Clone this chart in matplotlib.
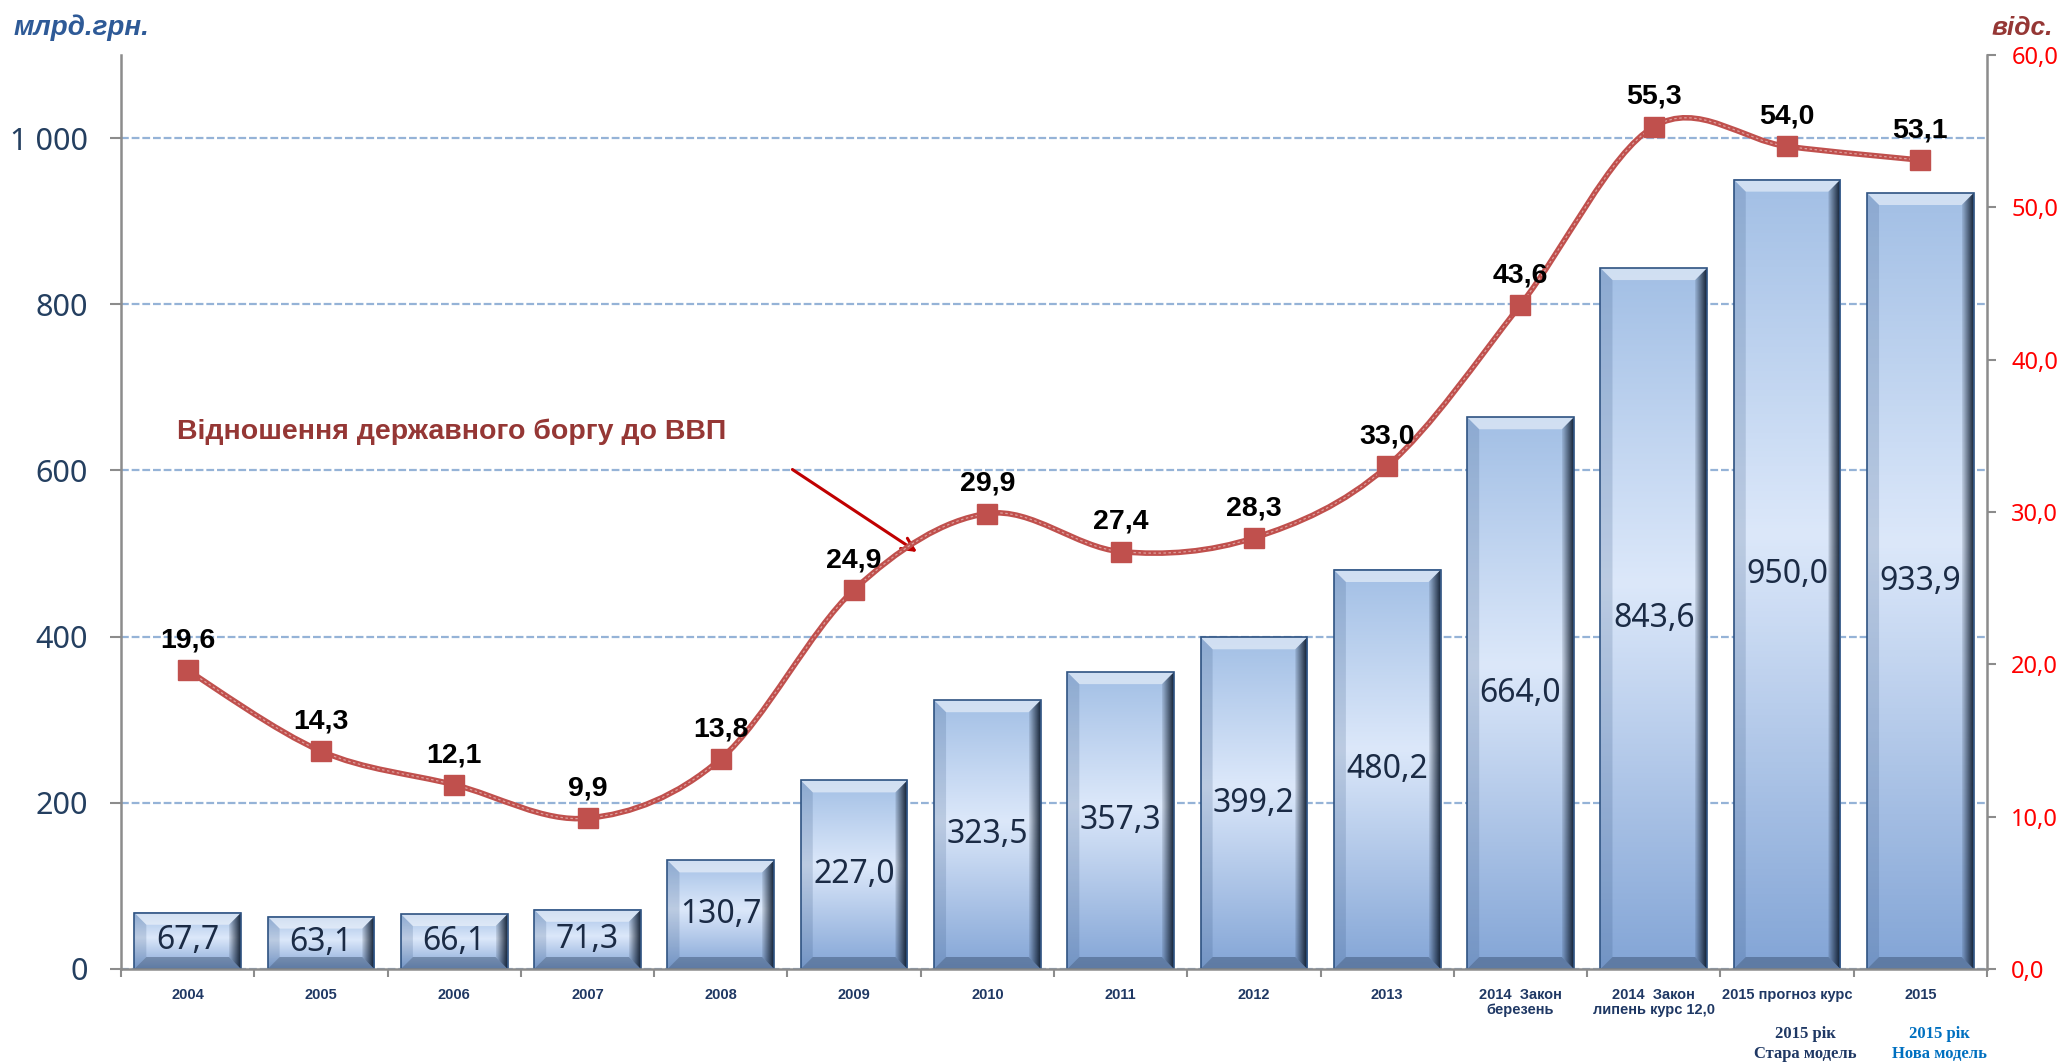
import numpy as np
import matplotlib
matplotlib.use('Agg')
import matplotlib.pyplot as plt
import matplotlib.transforms as mtransforms
from matplotlib.patches import Rectangle, Polygon, PathPatch
from matplotlib.path import Path
from matplotlib.colors import LinearSegmentedColormap, to_rgb
from matplotlib.ticker import FixedLocator, FuncFormatter, NullFormatter

plt.rcParams['font.family'] = ['Noto Sans', 'DejaVu Sans']
BOLD_FAM = ['Liberation Sans', 'DejaVu Sans']

# ---- data ----
CATEGORIES = ['2004', '2005', '2006', '2007', '2008', '2009', '2010', '2011',
              '2012', '2013', '2014  Закон\nберезень',
              '2014  Закон\nлипень курс 12,0', '2015 прогноз курс', '2015']
DEBT = [67.7, 63.1, 66.1, 71.3, 130.7, 227.0, 323.5, 357.3, 399.2, 480.2,
        664.0, 843.6, 950.0, 933.9]          # млрд.грн.
RATIO = [19.6, 14.3, 12.1, 9.9, 13.8, 24.9, 29.9, 27.4, 28.3, 33.0,
         43.6, 55.3, 54.0, 53.1]              # % ВВП
LEFT_TICKS = [0, 200, 400, 600, 800, 1000]
RIGHT_TICKS = [0, 10, 20, 30, 40, 50, 60]
NOTE_IDX = [12, 13]
NOTE_YEAR = '2015 рік'
NOTE_MODELS = ['Стара модель', 'Нова модель']
NOTE_COLORS = ['#1F3864', '#0070C0']
SERIES_NOTE = 'Відношення державного боргу до ВВП'

W, H = 2065, 1062
BAR_W = 0.8
LINE_C = '#C0504D'
GRID_C = '#95B3D7'
AX_C = '#8C8C8C'


def comma(v):
    return f'{v:.1f}'.replace('.', ',')


def smooth_path(xs, ys):
    # bezier through the points, excel-like "smoothed line"
    n = len(xs)
    verts = [(xs[0], ys[0])]
    codes = [Path.MOVETO]
    for i in range(n - 1):
        xp, yp = (xs[i - 1], ys[i - 1]) if i > 0 else (xs[i], ys[i])
        xn, yn = (xs[i + 2], ys[i + 2]) if i + 2 < n else (xs[i + 1], ys[i + 1])
        c1 = (xs[i] + (xs[i + 1] - xp) / 6, ys[i] + (ys[i + 1] - yp) / 6)
        c2 = (xs[i + 1] - (xn - xs[i]) / 6, ys[i + 1] - (yn - ys[i]) / 6)
        verts += [c1, c2, (xs[i + 1], ys[i + 1])]
        codes += [Path.CURVE4] * 3
    return Path(verts, codes)


fig = plt.figure(figsize=(W / 100, H / 100), dpi=100)
ax = fig.add_axes([121 / W, 1 - 969 / H, (1987 - 121) / W, (969 - 55) / H])
ax.set_xlim(-0.5, len(CATEGORIES) - 0.5)
ax.set_ylim(0, 1100)

# pixel -> data conversion for bevel sizes
p0 = ax.transData.transform((0, 0))
p1 = ax.transData.transform((1, 1))
sx, sy = p1[0] - p0[0], p1[1] - p0[1]

bar_cmap = LinearSegmentedColormap.from_list(
    'bar', [(0, '#83A5D6'), (0.55, '#DCE8FA'), (1, '#A2BFE5')])
grad = np.linspace(0, 1, 256).reshape(-1, 1)
dark = to_rgb('#0D1A2C')
side = np.zeros((1, 32, 4))
side[0, :, :3] = dark
side[0, :, 3] = np.linspace(0.1, 0.95, 32)

X = np.arange(len(CATEGORIES))
for xc, h in zip(X, DEBT):
    x0, x1 = xc - BAR_W / 2, xc + BAR_W / 2
    bx = 12 / sx
    by = min(12 / sy, h / 3)
    ax.imshow(grad, cmap=bar_cmap, vmin=0, vmax=1, origin='lower',
              extent=[x0, x1, 0, h], aspect='auto', zorder=2,
              interpolation='bilinear')
    # bevels
    top = Polygon([(x0, h), (x1, h), (x1 - bx, h - by), (x0 + bx, h - by)],
                  closed=True, facecolor='white', alpha=0.5, lw=0, zorder=2.2)
    left = Polygon([(x0, 0), (x0, h), (x0 + bx, h - by), (x0 + bx, by)],
                   closed=True, facecolor='#2B4B78', alpha=0.18, lw=0, zorder=2.2)
    bot = Polygon([(x0, 0), (x1, 0), (x1 - bx, by), (x0 + bx, by)],
                  closed=True, facecolor='#1A2D48', alpha=0.35, lw=0, zorder=2.2)
    right = Polygon([(x1, 0), (x1, h), (x1 - bx, h - by), (x1 - bx, by)],
                    closed=True, facecolor='none', lw=0, zorder=2.2)
    for p in (top, left, bot, right):
        ax.add_patch(p)
    im = ax.imshow(side, origin='lower', extent=[x1 - bx, x1, 0, h],
                   aspect='auto', zorder=2.3, interpolation='bilinear')
    im.set_clip_path(right)
    ax.add_patch(Rectangle((x0, 0), BAR_W, h, facecolor='none',
                           edgecolor='#2F5382', lw=1.2, zorder=2.5))
    ax.text(xc, h / 2, comma(h), ha='center', va='center', fontsize=23,
            color='#1B2B45', zorder=3)

ax.set_xlim(-0.5, len(CATEGORIES) - 0.5)
ax.set_ylim(0, 1100)

# grid + axes styling
ax.set_axisbelow(True)
ax.yaxis.set_major_locator(FixedLocator(LEFT_TICKS))
ax.yaxis.set_major_formatter(FuncFormatter(lambda v, p: f'{int(v):,}'.replace(',', ' ')))
ax.grid(axis='y', color=GRID_C, lw=1.6, linestyle=(0, (3.5, 1.3)))
ax.tick_params(axis='y', length=8, width=1.5, color=AX_C, pad=16,
               labelsize=22, labelcolor='#243F60')

ax.xaxis.set_major_locator(FixedLocator(np.arange(-0.5, len(CATEGORIES), 1)))
ax.xaxis.set_major_formatter(NullFormatter())
ax.xaxis.set_minor_locator(FixedLocator(X))
ax.set_xticklabels(CATEGORIES, minor=True, fontsize=10.5, fontweight='bold',
                   family=BOLD_FAM, color='#1F3864', linespacing=1.05)
ax.tick_params(axis='x', which='major', length=6, width=1.5, color=AX_C)
ax.tick_params(axis='x', which='minor', length=0, pad=14)

for s in ('top', 'right'):
    ax.spines[s].set_visible(False)
for s in ('left', 'bottom'):
    ax.spines[s].set_color(AX_C)
    ax.spines[s].set_linewidth(1.8)

# ---- ratio line ----
ax2 = ax.twinx()
ax2.set_ylim(0, 60)
ax2.yaxis.set_major_locator(FixedLocator(RIGHT_TICKS))
ax2.yaxis.set_major_formatter(FuncFormatter(lambda v, p: comma(v)))
ax2.tick_params(axis='y', length=6.5, width=1.5, color=AX_C, pad=11,
                labelsize=17, labelcolor='#FF0000')
for s in ('top', 'left', 'bottom'):
    ax2.spines[s].set_visible(False)
ax2.spines['right'].set_color(AX_C)
ax2.spines['right'].set_linewidth(1.8)

path = smooth_path(X, RATIO)
ax2.add_patch(PathPatch(path, facecolor='none', edgecolor=LINE_C, lw=4.0,
                        capstyle='round', zorder=4))
ax2.add_patch(PathPatch(path, facecolor='none', edgecolor='#DDA09E', lw=0.9,
                        linestyle=(0, (2, 2)), zorder=4.1))
ax2.plot(X, RATIO, ls='none', marker='s', ms=15, mfc=LINE_C, mec=LINE_C, zorder=5)
for xc, v in zip(X, RATIO):
    ax2.annotate(comma(v), (xc, v), xytext=(0, 12), textcoords='offset points',
                 ha='center', va='bottom', fontsize=20.5, fontweight='bold',
                 family=BOLD_FAM, color='black', zorder=6)

# series note + arrow
ax2.text(1.98, 647, SERIES_NOTE, transform=ax.transData, ha='center', va='center',
         fontsize=20.5, fontweight='bold', family=BOLD_FAM, color='#953735')
ax2.annotate('', xy=(5.49, 500), xycoords=ax.transData,
             xytext=(4.52, 603), textcoords=ax.transData,
             arrowprops=dict(arrowstyle='->', color='#C00000', lw=2.2,
                             mutation_scale=22))

# axis titles
fig.text(14 / W, 1 - 35 / H, 'млрд.грн.', ha='left', va='baseline', fontsize=20,
         fontweight='bold', fontstyle='italic', family='Liberation Sans',
         color='#2E5A97')
fig.text(1992 / W, 1 - 35 / H, 'відс.', ha='left', va='baseline', fontsize=19,
         fontweight='bold', fontstyle='italic', family='Liberation Sans',
         color='#953735')

# model notes under the last two categories
bt = mtransforms.blended_transform_factory(ax.transData, fig.transFigure)
for i, m, c in zip(NOTE_IDX, NOTE_MODELS, NOTE_COLORS):
    ax.text(i + 0.14, 1 - 1038 / H, NOTE_YEAR, transform=bt, ha='center',
            va='baseline', fontsize=12, fontweight='bold',
            family='Liberation Serif', color=c)
    ax.text(i + 0.14, 1 - 1058 / H, m, transform=bt, ha='center',
            va='baseline', fontsize=12, fontweight='bold',
            family='Liberation Serif', color=c)

fig.savefig('out.png', dpi=100)
